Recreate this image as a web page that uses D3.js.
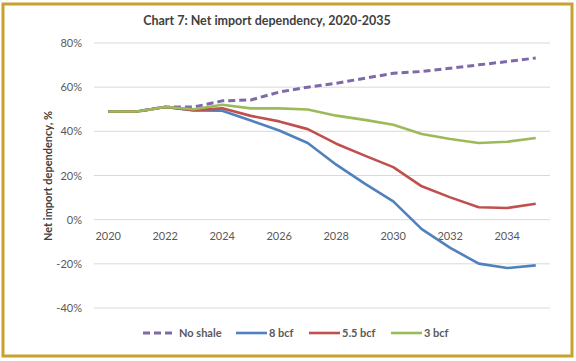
<!DOCTYPE html>
<html>
<head>
<meta charset="utf-8">
<script src="https://cdn.jsdelivr.net/npm/d3@7"></script>
<style>
html,body{margin:0;padding:0;background:#fff;}
svg{display:block;font-family:Lato,"Open Sans",sans-serif;}
</style>
</head>
<body>
<svg id="chart" width="576" height="361"></svg>
<script>
const years = ["2020","2021","2022","2023","2024","2025","2026","2027","2028","2029","2030","2031","2032","2033","2034","2035"];
const noShale = [49,49,51,51,53.8,54.2,57.8,60,61.8,64,66.3,67.1,68.6,70.1,71.6,73.2];
const bcf8 = [49,49,51,49.5,49.3,44.9,40.4,34.7,24.9,16.3,8.3,-4.3,-12.8,-19.9,-21.9,-20.7];
const bcf55 = [49,49,51,49.6,50.4,47,44.5,41,34.4,29,23.8,15.1,10.1,5.6,5.3,7.2];
const bcf3 = [49,49,51,50,52,50.4,50.4,49.9,47.1,45.2,43,38.8,36.5,34.7,35.3,37];
const yTicks = [-40,-20,0,20,40,60,80];
const xTickLabels = ["2020","2022","2024","2026","2028","2030","2032","2034"];
const seriesNames = ["No shale","8 bcf","5.5 bcf","3 bcf"];

const series = [
  {name: seriesNames[0], values: noShale, color: "#7e6aa8", dash: "7,4", width: 3},
  {name: seriesNames[1], values: bcf8, color: "#4f81bd", dash: null, width: 2.6},
  {name: seriesNames[2], values: bcf55, color: "#c0504d", dash: null, width: 2.6},
  {name: seriesNames[3], values: bcf3, color: "#9bbb59", dash: null, width: 2.6}
];

const svg = d3.select("#chart");

// frame
svg.append("rect").attr("x",3).attr("y",4).attr("width",569).attr("height",352)
  .attr("fill","#fff").attr("stroke","#c9a12e").attr("stroke-width",3);

const pLeft = 94, pRight = 550, pTop = 43, pBottom = 308;
const x = d3.scaleBand().domain(years).range([pLeft,pRight]);
const y = d3.scaleLinear().domain([-40,80]).range([pBottom,pTop]);

// gridlines
svg.append("g").selectAll("line").data(yTicks).join("line")
  .attr("x1",pLeft).attr("x2",pRight)
  .attr("y1",d=>y(d)).attr("y2",d=>y(d))
  .attr("stroke","#d9d9d9").attr("stroke-width",1);

// y axis labels
const yAxis = d3.axisLeft(y).tickValues(yTicks).tickFormat(d=>d+"%").tickSize(0).tickPadding(0);
const gy = svg.append("g").attr("transform",`translate(${pLeft-12},0)`).call(yAxis);
gy.select(".domain").remove();
gy.selectAll("text").attr("fill","#595959").style("font-size","11px").style("font-family","Lato,'Open Sans',sans-serif");

// x axis labels at 0 line
const xAxis = d3.axisBottom(x).tickValues(xTickLabels).tickSize(0).tickPadding(0);
const gx = svg.append("g").attr("transform",`translate(0,${y(0)+13})`).call(xAxis);
gx.select(".domain").remove();
gx.selectAll("text").attr("fill","#595959").style("font-size","11px").style("font-family","Lato,'Open Sans',sans-serif");

// lines
const line = d3.line().x((d,i)=>x(years[i])+x.bandwidth()/2).y(d=>y(d));
svg.append("g").selectAll("path").data(series).join("path")
  .attr("d",d=>line(d.values))
  .attr("fill","none")
  .attr("stroke",d=>d.color)
  .attr("stroke-width",d=>d.width)
  .attr("stroke-dasharray",d=>d.dash)
  .attr("stroke-linejoin","round");

// title
svg.append("text").attr("x",267).attr("y",25).attr("text-anchor","middle")
  .attr("fill","#404040").style("font-size","12.5px").style("font-weight","bold")
  .text("Chart 7: Net import dependency, 2020-2035");

// y axis title
svg.append("text").attr("transform","translate(52,176) rotate(-90)")
  .attr("text-anchor","middle").attr("fill","#404040")
  .style("font-size","11px").style("font-weight","bold")
  .text("Net import dependency, %");

// legend
const legX = [143,236,309,391];
const lg = svg.append("g");
series.forEach((s,i)=>{
  const g = lg.append("g").attr("transform",`translate(${legX[i]},333)`);
  g.append("line").attr("x1",0).attr("x2",31).attr("y1",0).attr("y2",0)
    .attr("stroke",s.color).attr("stroke-width",s.width).attr("stroke-dasharray",s.dash);
  g.append("text").attr("x",i===0?36:33).attr("y",4).attr("fill","#595959")
    .style("font-size","11px").style("font-weight","bold").text(s.name);
});
</script>
</body>
</html>
